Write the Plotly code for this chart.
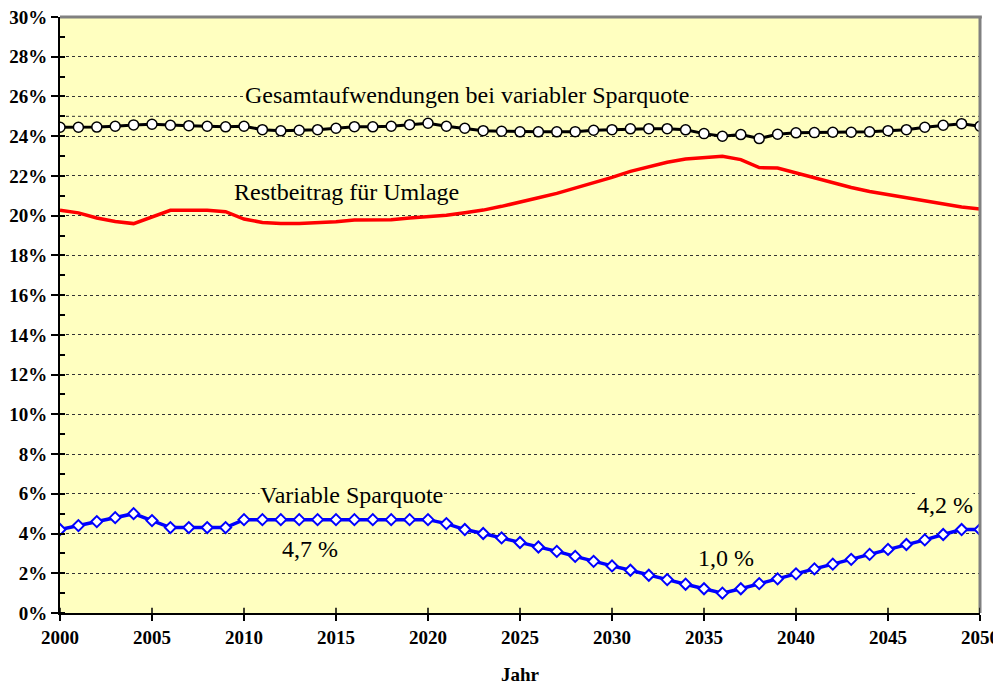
import plotly.graph_objects as go

years = list(range(2000, 2051))

gesamt = [24.45, 24.45, 24.46, 24.5, 24.57, 24.6, 24.55, 24.53, 24.5, 24.47,
          24.5, 24.33, 24.27, 24.3, 24.33, 24.4, 24.48, 24.47, 24.5, 24.58,
          24.65, 24.5, 24.4, 24.28, 24.25, 24.22, 24.22, 24.22, 24.23, 24.3,
          24.33, 24.37, 24.38, 24.38, 24.32, 24.13, 24.0, 24.08, 23.88, 24.1,
          24.17, 24.18, 24.2, 24.2, 24.22, 24.28, 24.33, 24.45, 24.55, 24.63,
          24.5]

restbeitrag = [20.27, 20.14, 19.88, 19.71, 19.6, 19.93, 20.27, 20.27, 20.27, 20.2,
               19.83, 19.66, 19.6, 19.6, 19.63, 19.7, 19.78, 19.78, 19.8, 19.88,
               19.95, 20.02, 20.15, 20.28, 20.47, 20.67, 20.9, 21.12, 21.38, 21.68,
               21.93, 22.23, 22.48, 22.69, 22.85, 22.92, 22.99, 22.82, 22.42, 22.4,
               22.15, 21.9, 21.65, 21.42, 21.22, 21.06, 20.89, 20.72, 20.59, 20.44,
               20.34]

sparquote = [4.2, 4.4, 4.6, 4.8, 5.0, 4.65, 4.3, 4.3, 4.3, 4.3,
             4.7, 4.7, 4.7, 4.7, 4.7, 4.7, 4.7, 4.7, 4.7, 4.7,
             4.7, 4.5, 4.2, 4.0, 3.78, 3.55, 3.32, 3.1, 2.85, 2.6,
             2.37, 2.15, 1.9, 1.68, 1.45, 1.22, 1.0, 1.22, 1.48, 1.72,
             1.97, 2.22, 2.46, 2.7, 2.95, 3.2, 3.45, 3.68, 3.95, 4.2,
             4.2]

labels = ["Gesamtaufwendungen bei variabler Sparquote", "Restbeitrag für Umlage",
          "Variable Sparquote", "4,7 %", "1,0 %", "4,2 %"]
label_x = [2010.0, 2009.4, 2010.8, 2012.0, 2034.6, 2046.5]
label_y = [26.05, 21.2, 5.95, 3.2, 2.77, 5.45]

BG = "#FFFFC0"
SERIF = "Liberation Serif"

fig = go.Figure()
fig.add_trace(go.Scatter(
    x=years, y=restbeitrag, mode="lines", name="Restbeitrag",
    line=dict(color="#FF0000", width=3.5)))
fig.add_trace(go.Scatter(
    x=years, y=gesamt, mode="lines+markers", name="Gesamt",
    line=dict(color="black", width=3),
    marker=dict(symbol="circle", size=10, color="white",
                line=dict(color="black", width=1.5))))
fig.add_trace(go.Scatter(
    x=years, y=sparquote, mode="lines+markers", name="Sparquote",
    line=dict(color="#0000FF", width=3.5),
    marker=dict(symbol="diamond", size=8.5, color="white",
                line=dict(color="#0000FF", width=2))))

for t, x, y in zip(labels, label_x, label_y):
    fig.add_annotation(x=x, y=y, text=t, showarrow=False, xanchor="left",
                       yanchor="middle", bgcolor=BG, borderpad=0,
                       font=dict(family=SERIF, size=24, color="black"))

shapes = [
    dict(type="line", xref="paper", yref="y", x0=0, x1=1, y0=25, y1=25,
         line=dict(color="#333333", width=1, dash="dot"), layer="below"),
    dict(type="line", xref="paper", yref="paper", x0=0, x1=1.002, y0=1, y1=1,
         line=dict(color="#808080", width=3)),
    dict(type="line", xref="paper", yref="paper", x0=1, x1=1, y0=0, y1=1,
         line=dict(color="#808080", width=3)),
]
for yr in range(2000, 2051, 5):
    shapes.append(dict(type="line", xref="x", yref="paper", x0=yr, x1=yr,
                       y0=0, y1=0.009, line=dict(color="black", width=1.5)))
fig.update_layout(shapes=shapes)

# page body has an 8px margin, so the figure is shrunk by it
fig.update_layout(
    width=993, height=679,
    margin=dict(l=52, r=21, t=9, b=74),
    paper_bgcolor="white", plot_bgcolor=BG,
    showlegend=False,
    font=dict(family=SERIF),
    xaxis=dict(range=[2000, 2050], dtick=5, tick0=2000, automargin=False,
               ticklabeloverflow="allow",
               showgrid=False, zeroline=False,
               showline=True, linecolor="black", linewidth=2,
               ticks="outside", ticklen=6, tickwidth=1.5, tickcolor="black",
               tickfont=dict(family=SERIF, size=19, color="black", weight="bold"),
               title=dict(text="<b>Jahr</b>", standoff=21,
                          font=dict(family=SERIF, size=19, color="black"))),
    yaxis=dict(range=[0, 30], dtick=2, tick0=0, ticksuffix="%", automargin=False,
               ticklabeloverflow="allow",
               showgrid=True, gridcolor="#333333", griddash="dot", gridwidth=1,
               zeroline=False,
               showline=True, linecolor="black", linewidth=2,
               ticks="outside", ticklen=7, tickwidth=1.5, tickcolor="black",
               minor=dict(ticks="inside", dtick=1, tick0=1, ticklen=5,
                          tickwidth=1.5, tickcolor="black", showgrid=False),
               tickfont=dict(family=SERIF, size=19, color="black", weight="bold")),
)

fig.write_html("out.html")
